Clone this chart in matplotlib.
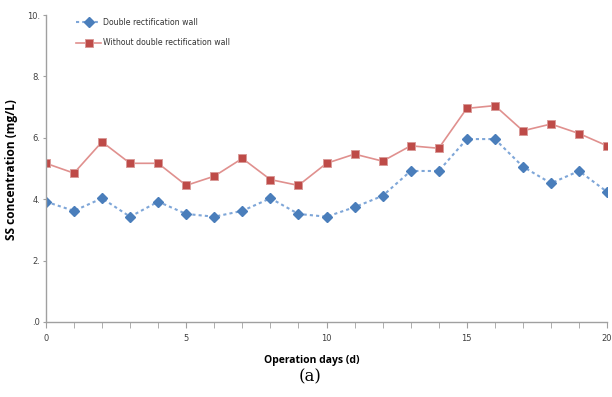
import matplotlib
matplotlib.use("Agg")
import matplotlib.pyplot as plt
from matplotlib.ticker import FixedLocator, FixedFormatter

days = list(range(21))
double_wall = [3.92, 3.62, 4.03, 3.43, 3.92, 3.52, 3.43, 3.62, 4.03, 3.52, 3.43,
               3.74, 4.11, 4.92, 4.92, 5.96, 5.96, 5.06, 4.52, 4.92, 4.24]
without_wall = [5.17, 4.85, 5.87, 5.17, 5.17, 4.45, 4.75, 5.33, 4.64, 4.45, 5.17,
                5.47, 5.24, 5.74, 5.66, 6.96, 7.05, 6.23, 6.45, 6.14, 5.74]
ytick_vals = [0, 2, 4, 6, 8, 10]
ytick_labels = [".0", "2.", "4.", "6.", "8.", "10."]
xtick_vals = [0, 5, 10, 15, 20]

fig = plt.figure(figsize=(6.12, 3.97), dpi=100)
ax = fig.add_axes([0.075, 0.189, 0.917, 0.773])

ax.plot(days, double_wall, linestyle=(0, (1.5, 1.5)), color="#7ea6d8", linewidth=1.5,
        marker="D", markersize=5, markerfacecolor="#4a7ebb", markeredgecolor="#4a7ebb",
        label="Double rectification wall")
ax.plot(days, without_wall, linestyle="-", color="#e0908e", linewidth=1.2,
        marker="s", markersize=5.8, markerfacecolor="#be4b48", markeredgecolor="#d99a98",
        markeredgewidth=0.7, label="Without double rectification wall")

ax.set_xlim(0, 20)
ax.set_ylim(0, 10)
ax.spines["top"].set_visible(False)
ax.spines["right"].set_visible(False)
for s in ("left", "bottom"):
    ax.spines[s].set_color("#a0a0a0")
    ax.spines[s].set_linewidth(1.0)

ax.xaxis.set_major_locator(FixedLocator(xtick_vals))
ax.xaxis.set_minor_locator(FixedLocator(days))
ax.yaxis.set_major_locator(FixedLocator(ytick_vals))
ax.yaxis.set_major_formatter(FixedFormatter(ytick_labels))
ax.tick_params(axis="x", which="both", direction="out", length=4, color="#a0a0a0",
               labelsize=6, labelcolor="#404040", pad=5)
ax.tick_params(axis="y", which="major", direction="out", length=2, color="#a0a0a0",
               labelsize=6, labelcolor="#404040", pad=2)

ax.set_xlabel("Operation days (d)", fontsize=7.5, fontweight="bold", family="Open Sans")
ax.xaxis.set_label_coords(0.474, -0.107)
ax.set_ylabel("SS concentration (mg/L)", fontsize=8.6, fontweight="bold", family="Open Sans")
ax.yaxis.set_label_coords(-0.049, 0.495)

leg = ax.legend(loc="upper left", bbox_to_anchor=(0.045, 1.005), frameon=False,
                fontsize=5.6, handlelength=3.3, handletextpad=0.25, labelspacing=1.45,
                borderaxespad=0.2)
for t in leg.get_texts():
    t.set_color("#333333")

fig.text(0.507, 0.03, "(a)", family="DejaVu Serif", fontsize=12, ha="center", va="bottom")

fig.savefig("out.png", dpi=100)
